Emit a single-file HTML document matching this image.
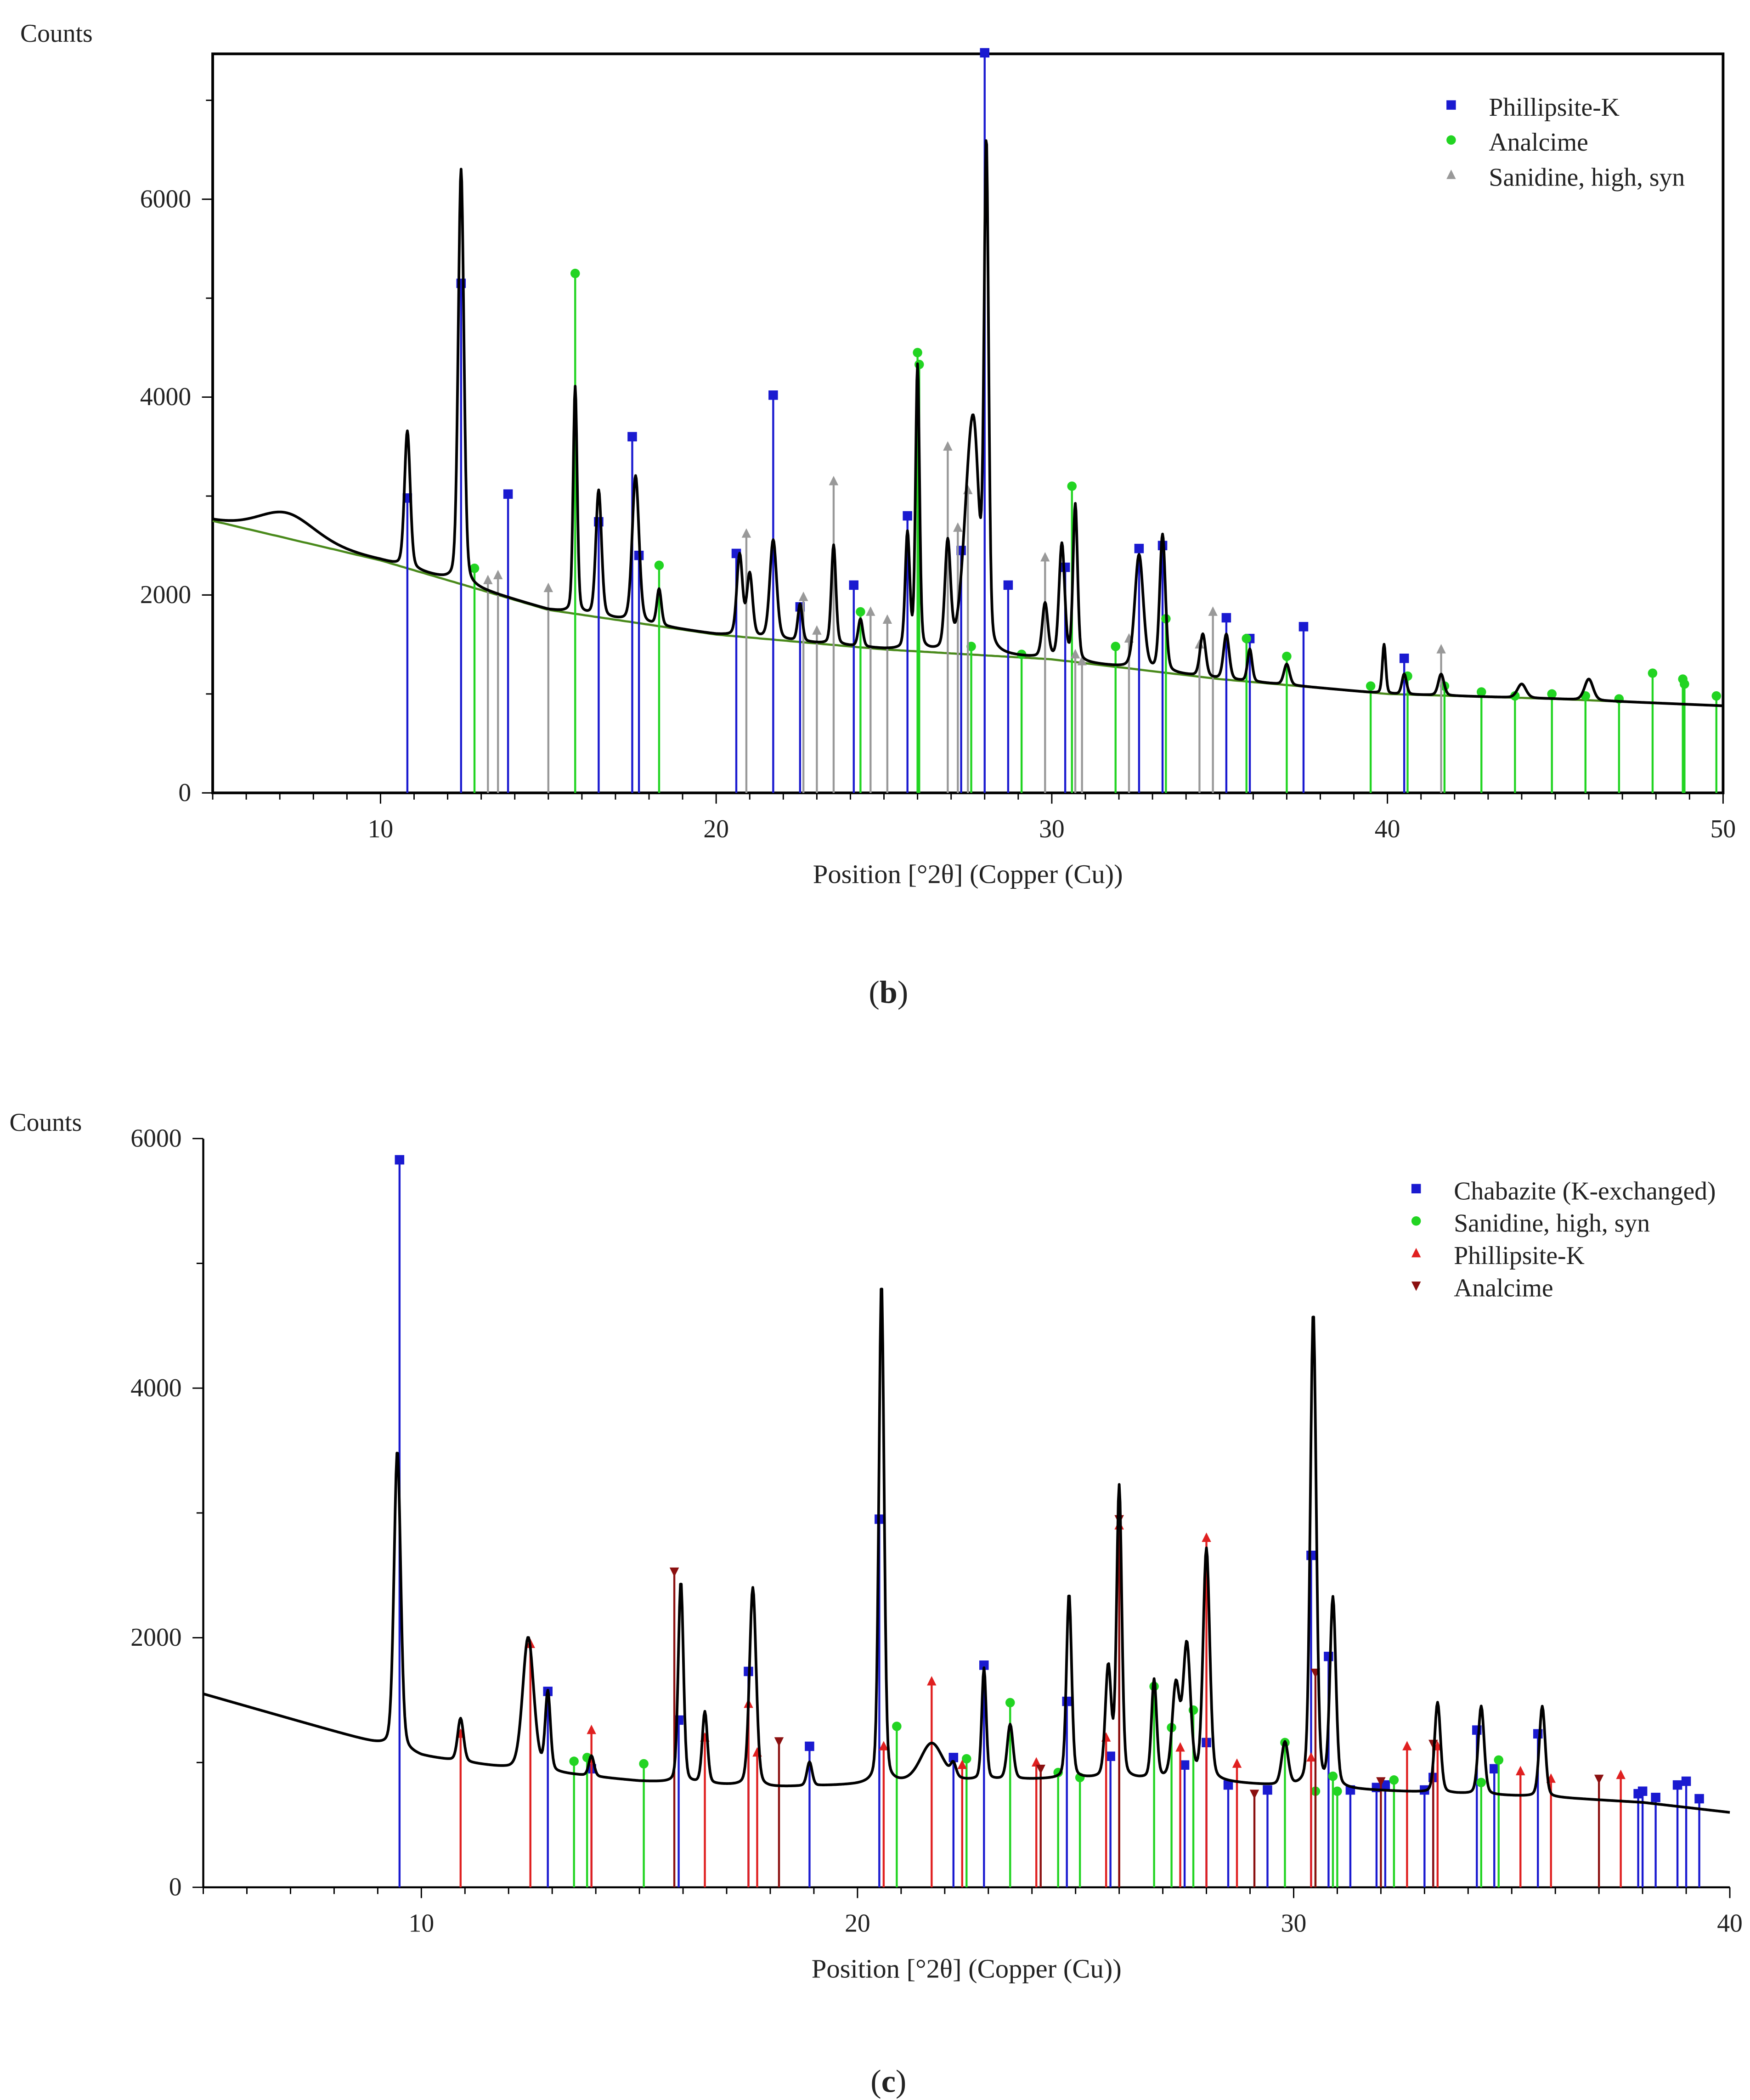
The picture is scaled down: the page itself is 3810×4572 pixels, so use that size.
<!DOCTYPE html>
<html><head><meta charset="utf-8">
<style>
html,body{margin:0;padding:0;background:#fff;}
svg{display:block;}
text{font-family:"Liberation Serif",serif;fill:#222;}
</style></head>
<body>
<svg id="fig" width="3810" height="4572" viewBox="0 0 1300 1560" xmlns="http://www.w3.org/2000/svg">
<g id="chartB"></g>
<g id="chartC"></g>
<text x="660" y="745" font-size="24" text-anchor="middle">(<tspan font-weight="bold">b</tspan>)</text>
<text x="660" y="1554" font-size="24" text-anchor="middle">(<tspan font-weight="bold">c</tspan>)</text>
</svg>
<script>
// ===== Chart B data =====
const bBaseX = [5,10,15,20,25,30,35,40,45,50];
const bBaseY = [2750,2350,1850,1600,1450,1350,1150,1000,950,880];
const bPeakPos = [7.2,10.8,12.4,15.8,16.5,17.6,18.3,20.7,21.0,21.7,22.5,23.5,24.3,25.7,26.0,26.9,27.5,27.7,28.05,29.8,30.3,30.7,32.6,33.3,34.5,35.2,35.9,37.0,39.9,40.5,41.6,44.0,46.0];
const bPeakH =   [2830,3650,6300,4100,3050,3200,2050,2400,2200,2550,1900,2500,1750,2600,4300,2500,2600,3000,6400,1900,2500,2900,2400,2600,1600,1600,1450,1300,1500,1200,1200,1100,1150];
const bPeakW =   [1.0,0.1,0.1,0.07,0.1,0.12,0.08,0.1,0.1,0.12,0.08,0.08,0.08,0.08,0.07,0.1,0.22,0.18,0.08,0.1,0.1,0.08,0.15,0.1,0.1,0.1,0.08,0.1,0.06,0.08,0.1,0.15,0.15];
const bPhilPos = [10.8,12.4,13.8,16.5,17.5,17.7,20.6,21.7,22.5,24.1,25.7,27.3,28.0,28.7,30.4,32.6,33.3,35.2,35.9,37.5,40.5];
const bPhilH =   [2980,5150,3020,2740,3600,2400,2420,4020,1880,2100,2800,2450,7480,2100,2280,2470,2500,1770,1560,1680,1360];
const bAnalPos = [12.8,15.8,18.3,24.3,26.0,26.05,27.6,29.1,30.6,31.9,33.4,35.8,37.0,39.5,40.6,41.7,42.8,43.8,44.9,45.9,46.9,47.9,48.8,48.85,49.8];
const bAnalH =   [2270,5250,2300,1830,4450,4330,1480,1400,3100,1480,1760,1560,1380,1080,1180,1080,1020,980,1000,980,950,1210,1150,1100,980];
const bSaniPos = [13.2,13.5,15.0,20.9,22.6,23.0,23.5,24.6,25.1,26.9,27.2,27.5,29.8,30.7,30.9,32.3,34.4,34.8,41.6];
const bSaniH =   [2150,2200,2070,2620,1980,1640,3150,1830,1750,3500,2680,3060,2380,1400,1330,1560,1500,1830,1450];
const bXTicks = [10,20,30,40,50];
const bYTicks = [0,2000,4000,6000];

// ===== Chart C data =====
const cBaseX = [5,7,9,10,12,15,18,20,22,25,28,30,33,36,38,40];
const cBaseY = [1550,1350,1150,1050,950,850,800,820,850,870,850,800,760,720,680,600];
const cPeakPos = [9.45,10.9,12.45,12.9,13.9,15.95,16.5,17.6,18.9,20.55,21.7,22.2,22.9,23.5,24.85,25.75,26.0,26.8,27.3,27.55,28.0,29.8,30.45,30.9,33.3,34.3,35.7];
const cPeakH =   [3500,1350,2000,1550,1050,2450,1400,2400,1000,4850,1150,950,1750,1300,2350,1750,3200,1650,1600,1920,2700,1150,4600,2300,1480,1450,1450];
const cPeakW =   [0.09,0.08,0.15,0.07,0.07,0.07,0.07,0.09,0.07,0.07,0.3,0.07,0.06,0.08,0.07,0.08,0.07,0.07,0.1,0.1,0.09,0.09,0.08,0.08,0.08,0.08,0.08];
const cChabPos = [9.5,12.9,13.9,15.9,17.5,18.9,20.5,22.2,22.9,24.8,25.8,27.5,28.0,28.5,29.4,30.4,30.8,31.3,31.9,32.1,33.0,33.2,34.2,34.6,35.6,37.9,38.0,38.3,38.8,39.0,39.3];
const cChabH =   [5830,1570,950,1340,1730,1130,2950,1040,1780,1490,1050,980,1160,820,780,2660,1850,780,800,820,780,880,1260,950,1230,750,770,720,820,850,710];
const cSaniPos = [13.5,13.8,15.1,20.9,22.5,23.5,24.6,25.1,26.8,27.2,27.7,29.8,30.5,30.9,31.0,32.3,34.3,34.7];
const cSaniH =   [1010,1040,990,1290,1030,1480,920,880,1610,1280,1420,1160,770,890,770,860,840,1020];
const cPhilPos = [10.9,12.5,13.9,16.5,17.5,17.7,20.6,21.7,22.4,24.1,25.7,26.0,27.4,28.0,28.7,30.4,32.6,33.3,35.2,35.9,37.5];
const cPhilH =   [1230,1950,1260,1200,1470,1080,1130,1650,980,1000,1200,2900,1120,2800,990,1040,1130,1130,930,870,900];
const cAnalPos = [15.8,18.2,24.2,26.0,29.1,30.5,32.0,33.2,37.0];
const cAnalH =   [2530,1170,950,2950,750,1720,850,1150,870];
const cXTicks = [10,20,30,40];
const cYTicks = [0,2000,4000,6000];

const NS = "http://www.w3.org/2000/svg";
function el(tag, attrs, parent){
  const e = document.createElementNS(NS, tag);
  for (const k in attrs) e.setAttribute(k, attrs[k]);
  parent.appendChild(e);
  return e;
}
function interp(xs, ys, x){
  if (x <= xs[0]) return ys[0];
  for (let i=1;i<xs.length;i++){
    if (x <= xs[i]){ const t=(x-xs[i-1])/(xs[i]-xs[i-1]); return ys[i-1]+t*(ys[i]-ys[i-1]); }
  }
  return ys[ys.length-1];
}
function profile(bx, by, pp, ph, pw, x){
  let y = interp(bx, by, x);
  for (let i=0;i<pp.length;i++){
    const a = ph[i] - interp(bx, by, pp[i]);
    const d = (x-pp[i])/pw[i];
    y += a*(0.75*Math.exp(-0.693*d*d) + 0.25/(1+d*d));
  }
  return y;
}

function drawChart(g, cfg){
  const X = v => cfg.x0 + (v-cfg.xmin)/(cfg.xmax-cfg.xmin)*(cfg.x1-cfg.x0);
  const Y = v => cfg.yb - v/1000*cfg.ypk;
  if (cfg.box){
    const r = el('rect',{x:cfg.x0,y:cfg.yt,width:cfg.x1-cfg.x0,height:cfg.yb-cfg.yt,fill:'none',stroke:'#000','stroke-width':2},g);
    
    
  } else {
    const a1 = el('line',{x1:cfg.x0,y1:cfg.yt,x2:cfg.x0,y2:cfg.yb,stroke:'#000','stroke-width':1.5},g);
    
    
    const a2 = el('line',{x1:cfg.x0,y1:cfg.yb,x2:cfg.x1,y2:cfg.yb,stroke:'#000','stroke-width':1.5},g);
    
    
  }
  for (let v=Math.ceil(cfg.xmin); v<=cfg.xmax; v++){
    const major = v%10===0;
    const t = el('line',{x1:X(v),y1:cfg.yb,x2:X(v),y2:cfg.yb+(major?8:5),stroke:'#000','stroke-width':1},g);
    
    
  }
  cfg.xticks.forEach(v=>{
    const t = el('text',{x:X(v),y:cfg.yb+33,'font-size':19,'text-anchor':'middle'},g);
    t.textContent = v;
    
    
  });
  for (let v=0; v<=cfg.ymaxTick; v+=1000){
    const t = el('line',{x1:cfg.x0-(v%2000===0?8:5),y1:Y(v),x2:cfg.x0,y2:Y(v),stroke:'#000','stroke-width':1},g);
    
    
  }
  cfg.yticks.forEach(v=>{
    const t = el('text',{x:cfg.x0-16,y:Y(v)+6,'font-size':19,'text-anchor':'end'},g);
    t.textContent = v;
    
    
  });
  const yl = el('text',{x:cfg.ylabX,y:cfg.ylabY,'font-size':19},g);
  yl.textContent = 'Counts';
  
  
  const xl = el('text',{x:(cfg.x0+cfg.x1)/2,y:cfg.yb+67,'font-size':20,'text-anchor':'middle'},g);
  xl.textContent = 'Position [°2θ] (Copper (Cu))';
  
  

  if (cfg.showBase){
    let d='';
    for (let x=cfg.xmin; x<=cfg.xmax+1e-6; x+=0.1) d += (d?'L':'M')+X(x).toFixed(1)+','+Y(interp(cfg.bx,cfg.by,x)).toFixed(1);
    const p = el('path',{d:d,fill:'none',stroke:'#4a8a1c','stroke-width':1.6},g);
    
    
  }
  cfg.phases.forEach(ph=>{
    const sg = el('g',{},g);
    
    
    ph.pos.forEach((p,i)=>{
      const ln = el('line',{x1:X(p),y1:cfg.yb,x2:X(p),y2:Y(ph.h[i]),stroke:ph.color,'stroke-width':1.5},sg);
      
      
      const m = marker(sg, ph.shape, X(p), Y(ph.h[i]), ph.color);
      
      
    });
  });
  let d='';
  for (let x=cfg.xmin; x<=cfg.xmax+1e-6; x+=0.02){
    d += (d?'L':'M')+X(x).toFixed(2)+','+Y(profile(cfg.bx,cfg.by,cfg.pp,cfg.ph,cfg.pw,x)).toFixed(2);
  }
  const sp = el('path',{d:d,fill:'none',stroke:'#000','stroke-width':2,'stroke-linejoin':'round'},g);
  
  
  cfg.phases.forEach((ph,i)=>{
    const ly = cfg.legY + i*cfg.legDy;
    const m = marker(g, ph.shape, cfg.legX, ly-6, ph.color);
    
    
    const t = el('text',{x:cfg.legX+28,y:ly+2,'font-size':19},g);
    t.textContent = ph.label;
    
    
  });
}
function marker(parent, shape, x, y, color){
  if (shape==='sq') return el('rect',{x:x-3.5,y:y-3.5,width:7,height:7,fill:color},parent);
  if (shape==='ci') return el('circle',{cx:x,cy:y,r:3.5,fill:color},parent);
  if (shape==='up') return el('polygon',{points:`${x},${y-4} ${x-3.5},${y+3} ${x+3.5},${y+3}`,fill:color},parent);
  return el('polygon',{points:`${x},${y+4} ${x-3.5},${y-3} ${x+3.5},${y-3}`,fill:color},parent);
}

drawChart(document.getElementById('chartB'),{
  x0:158,x1:1280,xmin:5,xmax:50,yb:589,yt:40,ypk:73.5,box:true,ymaxTick:7000,
  xticks:bXTicks,yticks:bYTicks,ylabX:15,ylabY:31,showBase:true,
  bx:bBaseX,by:bBaseY,pp:bPeakPos,ph:bPeakH,pw:bPeakW,
  legX:1078,legY:84,legDy:26,
  phases:[
    {name:'phillipsite',label:'Phillipsite-K',pos:bPhilPos,h:bPhilH,color:'#1a1ad0',shape:'sq'},
    {name:'analcime',label:'Analcime',pos:bAnalPos,h:bAnalH,color:'#22d422',shape:'ci'},
    {name:'sanidine',label:'Sanidine, high, syn',pos:bSaniPos,h:bSaniH,color:'#999',shape:'up'}
  ]
});
drawChart(document.getElementById('chartC'),{
  x0:151,x1:1285,xmin:5,xmax:40,yb:1402,yt:846,ypk:92.7,box:false,ymaxTick:6000,
  xticks:cXTicks,yticks:cYTicks,ylabX:7,ylabY:840,showBase:false,
  bx:cBaseX,by:cBaseY,pp:cPeakPos,ph:cPeakH,pw:cPeakW,
  legX:1052,legY:889,legDy:24,
  phases:[
    {name:'chabazite',label:'Chabazite (K-exchanged)',pos:cChabPos,h:cChabH,color:'#1a1ad0',shape:'sq'},
    {name:'sanidine',label:'Sanidine, high, syn',pos:cSaniPos,h:cSaniH,color:'#22d422',shape:'ci'},
    {name:'phillipsite',label:'Phillipsite-K',pos:cPhilPos,h:cPhilH,color:'#e02020',shape:'up'},
    {name:'analcime',label:'Analcime',pos:cAnalPos,h:cAnalH,color:'#8b1010',shape:'dn'}
  ]
});
</script>
</body></html>
